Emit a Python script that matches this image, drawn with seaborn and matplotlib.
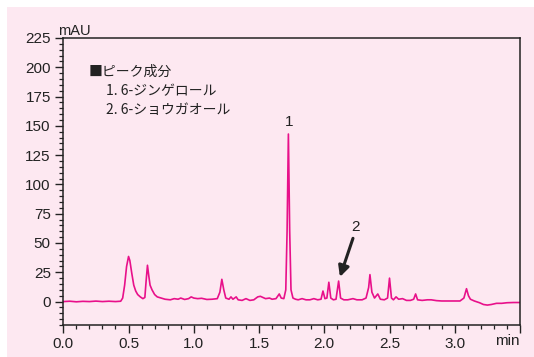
import matplotlib
matplotlib.use("Agg")
import matplotlib.pyplot as plt
from matplotlib.ticker import MultipleLocator
from matplotlib.patches import Rectangle
import seaborn as sns
import pandas as pd

# Chromatogram trace (time in min, absorbance in mAU)
time_min = [
    0.00, 0.05, 0.10, 0.15, 0.20, 0.25, 0.30, 0.35, 0.40, 0.44,
    0.455, 0.47, 0.485, 0.50, 0.51, 0.525, 0.54, 0.555, 0.57, 0.59,
    0.61, 0.625, 0.635, 0.645, 0.655, 0.665, 0.68, 0.70, 0.72, 0.75,
    0.78, 0.82, 0.85, 0.88, 0.90, 0.93, 0.96, 0.98, 1.00, 1.03,
    1.06, 1.10, 1.14, 1.18, 1.20, 1.215, 1.23, 1.245, 1.27, 1.285,
    1.30, 1.325, 1.34, 1.37, 1.40, 1.43, 1.46, 1.49, 1.51, 1.53,
    1.55, 1.58, 1.60, 1.63, 1.655, 1.67, 1.69, 1.705, 1.715, 1.725,
    1.735, 1.745, 1.76, 1.78, 1.80, 1.83, 1.86, 1.89, 1.92, 1.95,
    1.975, 1.99, 2.005, 2.02, 2.035, 2.05, 2.07, 2.09, 2.11, 2.125,
    2.15, 2.18, 2.22, 2.25, 2.29, 2.32, 2.34, 2.35, 2.365, 2.385,
    2.41, 2.43, 2.46, 2.485, 2.50, 2.515, 2.53, 2.55, 2.57, 2.60,
    2.63, 2.66, 2.685, 2.70, 2.715, 2.75, 2.79, 2.82, 2.86, 2.90,
    2.95, 3.00, 3.04, 3.07, 3.09, 3.105, 3.12, 3.15, 3.19, 3.22,
    3.25, 3.28, 3.32, 3.36, 3.40, 3.45, 3.50,
]
mau = [
    0.0, 0.3, -0.2, 0.2, 0.0, 0.4, 0.0, 0.3, 0.0, 0.3,
    3.0, 14.0, 30.0, 38.5, 35.0, 24.0, 14.0, 9.0, 6.0, 4.0,
    2.5, 3.5, 18.0, 31.0, 22.0, 14.0, 10.0, 6.0, 4.0, 3.0,
    2.0, 1.5, 2.5, 2.0, 3.0, 1.8, 2.5, 4.0, 3.0, 2.5,
    2.8, 1.8, 2.0, 2.5, 8.0, 19.0, 10.0, 3.0, 2.0, 4.0,
    2.0, 4.0, 1.5, 1.0, 2.5, 1.0, 1.5, 4.0, 4.5, 3.5,
    2.5, 3.0, 2.0, 2.5, 6.5, 3.0, 2.5, 10.0, 60.0, 143.0,
    60.0, 10.0, 3.0, 2.0, 1.5, 2.5, 1.5, 1.5, 2.5, 1.5,
    2.0, 9.0, 2.5, 3.0, 16.5, 3.0, 1.5, 2.0, 17.5, 3.0,
    1.5, 1.5, 2.5, 1.5, 1.5, 3.0, 12.0, 23.0, 8.0, 3.0,
    6.5, 2.0, 1.5, 3.0, 20.0, 3.0, 1.5, 4.0, 2.0, 2.5,
    1.0, 1.0, 2.0, 6.5, 1.5, 1.0, 1.5, 1.5, 0.8, 0.5,
    0.5, 0.5, 0.5, 3.0, 11.0, 5.0, 2.0, 0.5, -1.0, -2.5,
    -3.0, -2.5, -1.5, -1.5, -1.0, -0.8, -0.8,
]

x_tick_values = [0.0, 0.5, 1.0, 1.5, 2.0, 2.5, 3.0, 3.5]
x_tick_labels = ["0.0", "0.5", "1.0", "1.5", "2.0", "2.5", "3.0", ""]
y_tick_values = [0, 25, 50, 75, 100, 125, 150, 175, 200, 225]

legend_title = "■ピーク成分"
legend_lines = ["1. 6-ジンゲロール", "2. 6-ショウガオール"]
peak_labels = ["1", "2"]
peak_label_pos = [(1.728, 153), (2.24, 64)]
arrow_tail = (2.22, 54)
arrow_head = (2.12, 21)

PINK = "#fde8f1"
LINE = "#e8108a"
INK = "#222222"

sns.set_theme(style="ticks")
plt.rcParams["font.family"] = ["Liberation Sans", "Noto Sans CJK JP", "DejaVu Sans"]

fig = plt.figure(figsize=(5.34, 3.57), dpi=100)
fig.patch.set_facecolor("white")
fig.add_artist(Rectangle((7 / 534, 0), 1, 1 - 7 / 357, transform=fig.transFigure,
                         facecolor=PINK, edgecolor="none", zorder=-10))
ax = fig.add_axes([63.3 / 534, 1 - 325 / 357, (520 - 63.3) / 534, (325 - 38) / 357])
ax.set_facecolor(PINK)

df = pd.DataFrame({"time": time_min, "mAU": mau})
sns.lineplot(data=df, x="time", y="mAU", ax=ax, color=LINE, linewidth=1.2, sort=False)

ax.set_xlim(0, 3.5)
ax.set_ylim(-20, 225)
ax.set_xticks(x_tick_values)
ax.set_xticklabels(x_tick_labels)
ax.set_yticks(y_tick_values)
ax.xaxis.set_minor_locator(MultipleLocator(0.1))
ax.yaxis.set_minor_locator(MultipleLocator(5))
ax.set_xlabel("")
ax.set_ylabel("")
ax.tick_params(which="major", direction="out", length=6, width=1.0, color=INK,
               labelsize=11, labelcolor=INK, pad=3)
ax.tick_params(which="minor", direction="out", length=3, width=0.9, color=INK)
for s in ax.spines.values():
    s.set_color(INK)
    s.set_linewidth(1.1)
    s.set_visible(True)

ax.text(-0.012, 1.0, "mAU", transform=ax.transAxes, ha="left", va="bottom",
        fontsize=10.5, color=INK)
ax.text(1.0, -0.033, "min", transform=ax.transAxes, ha="right", va="top",
        fontsize=11, color=INK)

jp = ["Noto Sans CJK JP", "DejaVu Sans"]
ax.text(0.055, 0.8815, legend_title, transform=ax.transAxes, ha="left", va="center",
        fontsize=10, color=INK, family=jp)
for i, line in enumerate(legend_lines):
    ax.text(0.093, 0.815 - i * 0.066, line, transform=ax.transAxes, ha="left",
            va="center", fontsize=10, color=INK, family=jp)

for lab, (px, py) in zip(peak_labels, peak_label_pos):
    ax.text(px, py, lab, ha="center", va="center", fontsize=11, color=INK)

ax.annotate("", xy=arrow_head, xytext=arrow_tail,
            arrowprops=dict(arrowstyle="-|>", color=INK, lw=2.2, mutation_scale=16,
                            shrinkA=0, shrinkB=0))

fig.savefig("out.png", dpi=100, facecolor=fig.get_facecolor())
